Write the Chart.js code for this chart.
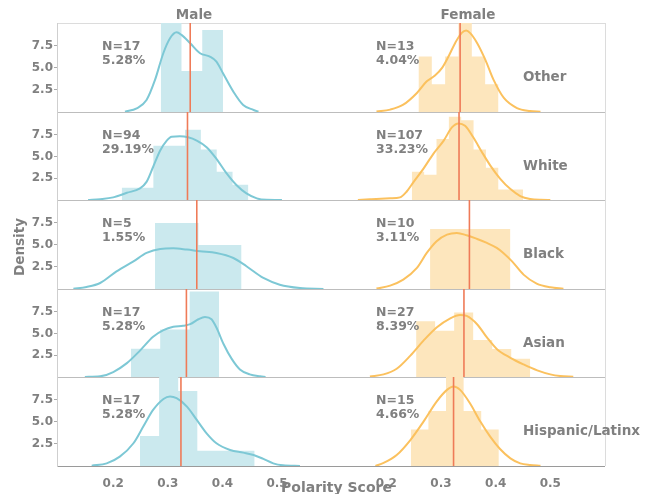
<!DOCTYPE html>
<html>
<head>
<meta charset="utf-8">
<script src="https://cdn.jsdelivr.net/npm/chart.js@4.4.0/dist/chart.umd.min.js"></script>
<style>
  html, body { margin: 0; padding: 0; background: #fff; }
  #wrap { position: relative; width: 655px; height: 494px; overflow: hidden;
          font-family: 'DejaVu Sans', sans-serif; font-weight: bold; color: #808080; }
  .pane { position: absolute; }
  .txt { position: absolute; white-space: nowrap; }
  #frame { position: absolute; left: 57px; top: 23px; width: 549px; height: 443px; box-sizing: border-box;
           border-top: 1px solid #dcdcdc; border-right: 1px solid #dcdcdc; }
</style>
</head>
<body>
<div id="wrap"><div id="frame"></div></div>
<script>
// ---- data ----
const groups = ['Other', 'White', 'Black', 'Asian', 'Hispanic/Latinx'];
const xTicks = [0.2, 0.3, 0.4, 0.5];
const yTicks = [2.5, 5.0, 7.5];

const maleCount = [17, 94, 5, 17, 17];
const malePct = ['5.28%', '29.19%', '1.55%', '5.28%', '5.28%'];
const femaleCount = [13, 107, 10, 27, 15];
const femalePct = ['4.04%', '33.23%', '3.11%', '8.39%', '4.66%'];

const maleMean = [0.341, 0.336, 0.353, 0.334, 0.324];
const femaleMean = [0.335, 0.333, 0.352, 0.342, 0.323];

const maleBinEdges = [
  [0.287, 0.325, 0.363, 0.401],
  [0.2155, 0.2445, 0.2735, 0.3025, 0.3315, 0.3605, 0.3895, 0.4185, 0.4475],
  [0.2765, 0.356, 0.435],
  [0.2325, 0.286, 0.34, 0.394],
  [0.249, 0.284, 0.319, 0.354, 0.389, 0.424, 0.459]
];
const maleBinDensity = [
  [12.4, 4.65, 9.3],
  [1.4, 1.4, 6.24, 6.24, 8.05, 5.8, 3.25, 1.75],
  [7.5, 5.0],
  [3.25, 5.45, 9.8],
  [3.4, 11.8, 8.5, 1.72, 1.72, 1.72]
];
const femaleBinEdges = [
  [0.2588, 0.2832, 0.3076, 0.332, 0.3564, 0.3808, 0.4052],
  [0.2466, 0.2692, 0.2918, 0.3144, 0.337, 0.3596, 0.3822, 0.4048, 0.4274, 0.45],
  [0.280, 0.3535, 0.427],
  [0.2545, 0.2893, 0.3241, 0.3589, 0.3937, 0.4285, 0.4633],
  [0.2448, 0.277, 0.3092, 0.3414, 0.3736, 0.4058]
];
const femaleBinDensity = [
  [6.3, 3.15, 6.3, 15.8, 6.3, 3.15],
  [3.25, 2.9, 7.0, 9.55, 9.15, 5.8, 3.7, 1.2, 1.2],
  [6.82, 6.82],
  [6.4, 5.3, 7.4, 4.25, 3.2, 2.1],
  [4.15, 6.25, 10.35, 6.25, 4.15]
];

// kde curves as [score, density]
const maleKde = [
  [[0.2215,0.03],[0.243,0.42],[0.261,1.36],[0.2765,3.64],[0.2917,6.67],[0.304,8.37],[0.316,9.05],[0.325,8.75],[0.341,7.8],[0.359,6.67],[0.377,6.29],[0.389,5.72],[0.401,4.4],[0.42,2.31],[0.438,0.8],[0.457,0.23],[0.466,0.03]],
  [[0.154,0.01],[0.176,0.1],[0.2,0.3],[0.225,0.83],[0.249,1.33],[0.261,2.08],[0.273,3.79],[0.286,5.68],[0.298,6.82],[0.307,7.27],[0.322,7.31],[0.337,7.2],[0.353,6.82],[0.371,6.06],[0.389,4.73],[0.408,3.03],[0.426,1.7],[0.444,0.76],[0.463,0.19],[0.481,0.03],[0.509,0.01]],
  [[0.127,0.02],[0.151,0.23],[0.176,0.68],[0.206,2.0],[0.237,3.14],[0.261,4.09],[0.286,4.55],[0.31,4.62],[0.335,4.47],[0.359,4.28],[0.389,4.09],[0.42,3.52],[0.444,2.58],[0.475,1.25],[0.505,0.49],[0.542,0.11],[0.585,0.01]],
  [[0.148,0.01],[0.176,0.08],[0.2,0.57],[0.225,1.59],[0.249,3.03],[0.273,4.62],[0.292,5.38],[0.31,5.76],[0.328,5.87],[0.341,6.06],[0.356,6.63],[0.368,6.89],[0.38,6.63],[0.389,5.68],[0.402,3.79],[0.417,2.08],[0.432,0.87],[0.45,0.3],[0.469,0.08],[0.479,0.01]],
  [[0.1605,0.04],[0.188,0.3],[0.212,1.06],[0.237,2.58],[0.255,4.47],[0.273,6.36],[0.292,7.61],[0.304,7.88],[0.316,7.69],[0.335,6.74],[0.353,5.23],[0.371,3.71],[0.389,2.58],[0.414,1.82],[0.438,1.52],[0.457,1.25],[0.475,0.8],[0.493,0.3],[0.511,0.08],[0.542,0.01]]
];
const femaleKde = [
  [[0.182,0.05],[0.207,0.27],[0.231,0.83],[0.256,2.16],[0.274,3.48],[0.289,4.13],[0.302,5.0],[0.314,6.33],[0.326,7.84],[0.338,8.98],[0.346,9.24],[0.353,8.98],[0.366,7.84],[0.381,5.95],[0.396,3.67],[0.415,1.59],[0.439,0.45],[0.463,0.11],[0.482,0.02]],
  [[0.148,0.01],[0.17,0.08],[0.207,0.19],[0.225,0.3],[0.237,0.95],[0.25,2.08],[0.268,3.6],[0.286,5.3],[0.305,6.82],[0.32,8.33],[0.332,8.79],[0.344,8.52],[0.359,7.2],[0.375,5.49],[0.39,3.98],[0.408,2.46],[0.427,1.25],[0.445,0.45],[0.463,0.11],[0.482,0.02],[0.5,0.01]],
  [[0.182,0.05],[0.207,0.38],[0.231,1.06],[0.256,2.39],[0.274,4.09],[0.292,5.42],[0.311,6.17],[0.329,6.36],[0.347,6.1],[0.366,5.68],[0.384,5.23],[0.402,4.66],[0.414,4.09],[0.43,3.14],[0.451,1.63],[0.475,0.61],[0.5,0.19],[0.524,0.03]],
  [[0.17,0.05],[0.195,0.3],[0.219,0.95],[0.244,2.46],[0.268,4.17],[0.292,5.68],[0.317,6.74],[0.335,7.12],[0.347,7.01],[0.366,6.06],[0.384,4.55],[0.402,3.22],[0.427,2.2],[0.451,1.44],[0.476,0.76],[0.5,0.3],[0.518,0.11],[0.542,0.02]],
  [[0.18,0.02],[0.195,0.35],[0.219,1.25],[0.244,2.95],[0.268,5.04],[0.292,7.31],[0.311,8.64],[0.323,9.02],[0.335,8.64],[0.353,7.12],[0.372,5.04],[0.39,3.33],[0.408,1.93],[0.427,0.87],[0.445,0.3],[0.463,0.11],[0.482,0.02]]
];

// ---- layout ----
const rowEdges = [23, 112, 200, 289, 377, 466];
const PAD = 2, AXIS_H = 24, Y_MAX = 10.1;
const MEAN_COLOR = '#ef7b58';

Chart.defaults.font.family = "'DejaVu Sans', sans-serif";
Chart.defaults.font.weight = 'bold';
Chart.defaults.font.size = 12;
Chart.defaults.color = '#808080';

const sexes = [
  { title: 'Male', left: 0, width: 330, yAxis: true, xMax: 0.597, line: '#7dc8d5', fill: '#cbe9ee',
    edges: maleBinEdges, dens: maleBinDensity, kde: maleKde, mean: maleMean, n: maleCount, pct: malePct,
    nLeft: 102, titleX: 194 },
  { title: 'Female', left: 330, width: 275, yAxis: false, xMax: 0.6, line: '#fbc15e', fill: '#fde6bd',
    edges: femaleBinEdges, dens: femaleBinDensity, kde: femaleKde, mean: femaleMean, n: femaleCount, pct: femalePct,
    nLeft: 376, titleX: 468 }
];

const wrap = document.getElementById('wrap');

function addText(str, css) {
  const d = document.createElement('div');
  d.className = 'txt';
  d.textContent = str;
  Object.assign(d.style, css);
  wrap.appendChild(d);
  return d;
}

function histPoints(edges, dens) {
  const pts = [{ x: edges[0], y: 0 }];
  dens.forEach((d, i) => {
    pts.push({ x: edges[i], y: d }, { x: edges[i + 1], y: d });
  });
  pts.push({ x: edges[edges.length - 1], y: 0 });
  return pts;
}

groups.forEach((g, r) => {
  const top = rowEdges[r];
  const h = rowEdges[r + 1] - top;
  const last = r === groups.length - 1;

  sexes.forEach(s => {
    const box = document.createElement('div');
    box.className = 'pane';
    box.style.left = s.left + 'px';
    box.style.top = (top - PAD) + 'px';
    box.style.width = s.width + 'px';
    box.style.height = (h + 2 * PAD + (last ? AXIS_H : 0)) + 'px';
    const cv = document.createElement('canvas');
    box.appendChild(cv);
    wrap.appendChild(box);

    new Chart(cv, {
      type: 'line',
      data: {
        datasets: [
          { data: [{ x: s.mean[r], y: 0 }, { x: s.mean[r], y: Y_MAX }], borderColor: MEAN_COLOR,
            borderWidth: 1.6, pointRadius: 0, fill: false, order: 0 },
          { data: s.kde[r].map(([x, y]) => ({ x, y })), borderColor: s.line, borderWidth: 2,
            pointRadius: 0, fill: false, cubicInterpolationMode: 'monotone', order: 1 },
          { data: histPoints(s.edges[r], s.dens[r]), borderWidth: 0, borderColor: 'rgba(0,0,0,0)',
            backgroundColor: s.fill, fill: 'origin', pointRadius: 0, tension: 0, order: 2 }
        ]
      },
      options: {
        responsive: true,
        maintainAspectRatio: false,
        animation: false,
        events: [],
        layout: { padding: { top: PAD, bottom: PAD, left: 0, right: 0 } },
        plugins: { legend: { display: false }, tooltip: { enabled: false } },
        scales: {
          x: {
            type: 'linear', min: 0.097, max: s.xMax,
            grid: { display: false },
            border: { display: true, color: last ? '#9a9a9a' : '#bdbdbd', width: 1 },
            ticks: { display: last, padding: 3, maxRotation: 0, callback: v => v.toFixed(1) },
            afterBuildTicks: sc => { sc.ticks = xTicks.map(v => ({ value: v })); },
            afterFit: sc => {
              sc.height = last ? AXIS_H : 0;
              sc.paddingLeft = 0; sc.paddingRight = 0;
            }
          },
          y: {
            display: s.yAxis, min: 0, max: Y_MAX,
            grid: { display: true, drawOnChartArea: false, tickLength: 3, color: '#aaaaaa' },
            border: { display: true, color: '#cfcfcf' },
            ticks: { padding: 1, callback: v => v.toFixed(1) },
            afterBuildTicks: sc => { sc.ticks = yTicks.map(v => ({ value: v })); },
            afterFit: sc => {
              sc.width = s.yAxis ? 57 : 0;
              sc.paddingTop = 0; sc.paddingBottom = 0;
            }
          }
        }
      }
    });

    addText('N=' + s.n[r] + '\n' + s.pct[r], {
      left: s.nLeft + 'px', top: (top + 16) + 'px', fontSize: '12.5px', lineHeight: '14px', whiteSpace: 'pre'
    });
  });

  addText(g, {
    left: '523px', top: (top + 53.5) + 'px', fontSize: '13.5px', lineHeight: '13.5px', transform: 'translateY(-50%)'
  });
});

sexes.forEach(s => {
  addText(s.title, {
    left: s.titleX + 'px', top: '15px', fontSize: '13.5px', lineHeight: '13.5px', transform: 'translate(-50%, -50%)'
  });
});

addText('Density', {
  left: '20px', top: '247px', fontSize: '13.5px', lineHeight: '13.5px', transform: 'translate(-50%, -50%) rotate(-90deg)'
});
addText('Polarity Score', {
  left: '281px', top: '487px', fontSize: '14px', lineHeight: '14px', transform: 'translateY(-50%)'
});
</script>
</body>
</html>
